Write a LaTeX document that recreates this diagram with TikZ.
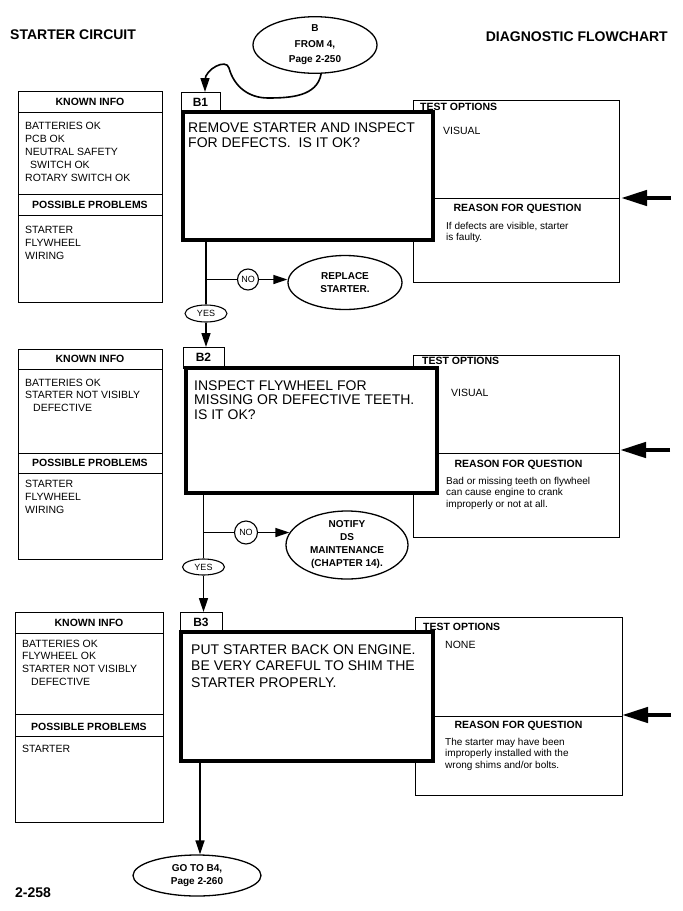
\documentclass[tikz,border=0pt]{standalone}
\usepackage{fontspec}
\setmainfont{Liberation Sans}
\usetikzlibrary{arrows.meta,shapes.geometric}
\newcommand{\myfs}[2]{\fontsize{#1}{#2}\selectfont}
\begin{document}
\begin{tikzpicture}[x=1pt,y=-1pt,
  boxln/.style={draw=black,line width=0.9pt},
  infobox/.style={boxln,rectangle,inner sep=0pt,outer sep=0pt,anchor=north west},
  mainbox/.style={draw=black,line width=3.6pt,fill=white,rectangle,inner sep=0pt,outer sep=0pt,anchor=north west},
  lblbox/.style={infobox,fill=white,font=\bfseries\myfs{12}{14}},
  hdr/.style={font=\bfseries\myfs{10.5}{12},inner sep=0pt},
  kitxt/.style={font=\myfs{10.5}{12.9},align=left,inner sep=0pt,anchor=base west},
  qtxt/.style={font=\myfs{14}{15},align=left,inner sep=0pt,anchor=base west},
  rtxt/.style={font=\myfs{10}{11.7},align=left,inner sep=0pt,anchor=base west},
  oval/.style={ellipse,draw=black,line width=1.3pt,inner sep=0pt,fill=white,font=\bfseries\myfs{10}{13.3},align=center},
  smallc/.style={draw=black,line width=1.1pt,inner sep=0pt,fill=white,font=\myfs{9}{10}},
  ln/.style={line width=1.6pt},
  conn/.style={line width=1.6pt,-{Triangle[length=14pt,width=9pt]}},
  bigarr/.style={line width=4.5pt,-{Triangle[length=26pt,width=15pt]}},
  ttl/.style={font=\bfseries\myfs{14}{16},inner sep=0pt}
]
\fill[white] (0,0) rectangle (683,911);
\useasboundingbox (0,0) rectangle (683,911);

% titles
\node[ttl,anchor=base west] (t1) at (10,39.5) {STARTER CIRCUIT};
\node[ttl,anchor=base east] (t2) at (668,41) {DIAGNOSTIC FLOWCHART};
\node[ttl,anchor=base west] (pg) at (15,897) {2-258};

% ================= B1 =================
\node[infobox,minimum width=144pt,minimum height=211pt] (ki1) at (18,91) {};
\draw[boxln] (18,112) -- (162,112) (18,194) -- (162,194) (18,215) -- (162,215);
\node[hdr] (ki1h) at (90,102) {KNOWN INFO};
\node[hdr] (pp1h) at (90,205) {POSSIBLE PROBLEMS};
% multi-line nodes: base anchor = baseline of last line
\node[kitxt] (ki1t) at (25,181.1) {BATTERIES OK\\PCB OK\\NEUTRAL SAFETY\\\hspace*{5pt}SWITCH OK\\ROTARY SWITCH OK};
\node[kitxt] (pp1t) at (25,259.3) {STARTER\\FLYWHEEL\\WIRING};

\node[infobox,minimum width=206pt,minimum height=182pt] (to1) at (413,100) {};
\draw[boxln] (413,198) -- (619,198);
\node[hdr,anchor=base west] (to1h) at (420,110) {TEST OPTIONS};
\node[kitxt] (to1t) at (443,134) {VISUAL};
\node[hdr] (rq1h) at (517.5,208.5) {REASON FOR QUESTION};
\node[rtxt] (rq1t) at (446,240.7) {If defects are visible, starter\\is faulty.};

\node[lblbox,minimum width=39pt,minimum height=20pt] (l1) at (181,92) {B1};
\node[mainbox,minimum width=250pt,minimum height=128pt] (q1) at (183,112) {};
\node[qtxt,font=\myfs{14}{15}] (q1t) at (188,147) {REMOVE STARTER AND INSPECT\\FOR DEFECTS.\ \ IS IT OK?};

\coordinate (a1s) at (671,198);
\coordinate (to1d) at (621,198);
\draw[bigarr] (a1s) -- (to1d);

\node[oval,minimum width=124pt,minimum height=52pt,font=\bfseries\myfs{10}{15.5}] (from4) at (315,45) {B\\FROM 4,\\Page 2-250};
\coordinate (c1) at (205,80);
\draw[conn] (from4.-78) to[out=-100,in=0] (268,98) to[out=180,in=-75] (229,68) to[out=105,in=90] (c1) -- (c1 |- l1.north);

\node[smallc,circle,minimum size=21pt] (no1) at (248,279.5) {NO};
\node[smallc,ellipse,minimum width=42pt,minimum height=17pt] (yes1) at (206,313.5) {YES};
\node[oval,minimum width=114pt,minimum height=54pt] (rep1) at (345,282.5) {REPLACE\\STARTER.};
\coordinate (j1) at (206,279.5);
\draw[ln] (j1 |- q1.south) -- (yes1.north);
\draw[ln] (j1) -- (no1.west);
\draw[conn] (no1.east) -- (rep1.west |- no1.east);

% ================= B2 =================
\node[infobox,minimum width=144pt,minimum height=210pt] (ki2) at (18,349) {};
\draw[boxln] (18,369) -- (162,369) (18,453) -- (162,453) (18,473) -- (162,473);
\node[hdr] (ki2h) at (90,359) {KNOWN INFO};
\node[hdr] (pp2h) at (90,463) {POSSIBLE PROBLEMS};
\node[kitxt] (ki2t) at (25,411.8) {BATTERIES OK\\STARTER NOT VISIBLY\\\hspace*{8pt}DEFECTIVE};
\node[kitxt] (pp2t) at (25,513.3) {STARTER\\FLYWHEEL\\WIRING};

\node[infobox,minimum width=206pt,minimum height=182pt] (to2) at (413,355) {};
\draw[boxln] (413,453) -- (619,453);
\node[hdr,anchor=base west] (to2h) at (422,364.5) {TEST OPTIONS};
\node[kitxt] (to2t) at (451,396) {VISUAL};
\node[hdr] (rq2h) at (518.5,465) {REASON FOR QUESTION};
\node[rtxt] (rq2t) at (446,507.4) {Bad or missing teeth on flywheel\\can cause engine to crank\\improperly or not at all.};

\node[lblbox,minimum width=41pt,minimum height=21pt] (l2) at (183,347) {B2};
\node[mainbox,minimum width=251pt,minimum height=125pt] (q2) at (186,368) {};
\node[qtxt,font=\myfs{14}{14.5}] (q2t) at (194,419) {INSPECT FLYWHEEL FOR\\MISSING OR DEFECTIVE TEETH.\\IS IT OK?};

\coordinate (a2s) at (670,450);
\coordinate (to2d) at (620,450);
\draw[bigarr] (a2s) -- (to2d);

\draw[conn] (yes1.south) -- (yes1.south |- l2.north);

\node[smallc,circle,minimum size=23pt] (no2) at (246,532.5) {NO};
\node[smallc,ellipse,minimum width=42pt,minimum height=16pt] (yes2) at (203.5,567) {YES};
\node[oval,minimum width=122pt,minimum height=68pt,font=\bfseries\myfs{10}{13}] (not2) at (347,545) {NOTIFY\\DS\\MAINTENANCE\\(CHAPTER 14).};
\coordinate (j2) at (203.5,532.5);
\draw[ln] (j2 |- q2.south) -- (yes2.north);
\draw[ln] (j2) -- (no2.west);
\draw[conn,shorten >=-4pt] (no2.east) -- (not2.west |- no2.east);

% ================= B3 =================
\node[infobox,minimum width=148pt,minimum height=210pt] (ki3) at (15,612) {};
\draw[boxln] (15,633) -- (163,633) (15,714) -- (163,714) (15,736) -- (163,736);
\node[hdr] (ki3h) at (89,623) {KNOWN INFO};
\node[hdr] (pp3h) at (89,726.5) {POSSIBLE PROBLEMS};
\node[kitxt] (ki3t) at (22,685.7) {BATTERIES OK\\FLYWHEEL OK\\STARTER NOT VISIBLY\\\hspace*{9pt}DEFECTIVE};
\node[kitxt] (pp3t) at (22,752) {STARTER};

\node[infobox,minimum width=207pt,minimum height=178pt] (to3) at (415,617) {};
\draw[boxln] (415,716) -- (622,716);
\node[hdr,anchor=base west] (to3h) at (423,630.5) {TEST OPTIONS};
\node[kitxt] (to3t) at (445,648) {NONE};
\node[hdr] (rq3h) at (518.5,726) {REASON FOR QUESTION};
\node[rtxt] (rq3t) at (445,768.4) {The starter may have been\\improperly installed with the\\wrong shims and/or bolts.};

\node[lblbox,minimum width=42pt,minimum height=20pt] (l3) at (180,612) {B3};
\node[mainbox,minimum width=252pt,minimum height=129pt] (q3) at (181,632) {};
\node[qtxt,font=\myfs{14}{16.5}] (q3t) at (191,687) {PUT STARTER BACK ON ENGINE.\\BE VERY CAREFUL TO SHIM THE\\STARTER PROPERLY.};

\coordinate (a3s) at (671,715);
\coordinate (to3d) at (622,715);
\draw[bigarr] (a3s) -- (to3d);

\draw[conn] (yes2.south) -- (yes2.south |- l3.north);

\node[oval,minimum width=128pt,minimum height=41pt,font=\bfseries\myfs{10}{12.5}] (go4) at (197,875.5) {GO TO B4,\\Page 2-260};
\coordinate (j3) at (200,800);
\draw[conn] (j3 |- q3.south) -- (j3 |- go4.north);
\end{tikzpicture}
\end{document}
